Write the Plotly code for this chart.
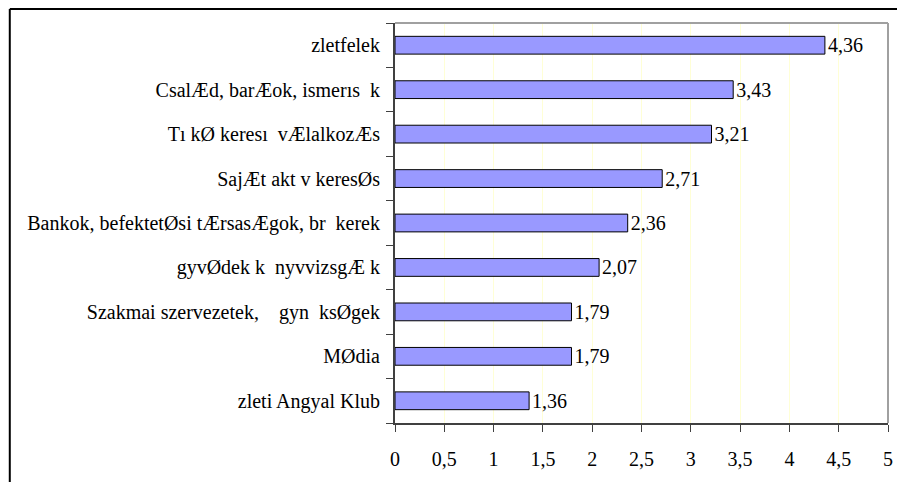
import plotly.graph_objects as go

categories = [
    "zleti Angyal Klub",
    "MØdia",
    "Szakmai szervezetek,    gyn  ksØgek",
    "gyvØdek k  nyvvizsgÆ k",
    "Bankok, befektetØsi tÆrsasÆgok, br  kerek",
    "SajÆt akt v keresØs",
    "Tı kØ keresı  vÆlalkozÆs",
    "CsalÆd, barÆok, ismerıs  k",
    "zletfelek",
]
values = [1.36, 1.79, 1.79, 2.07, 2.36, 2.71, 3.21, 3.43, 4.36]
x_ticks = [0, 0.5, 1, 1.5, 2, 2.5, 3, 3.5, 4, 4.5, 5]
x_ticklabels = ["0", "0,5", "1", "1,5", "2", "2,5", "3", "3,5", "4", "4,5", "5"]

FONT = "Liberation Serif"
FS = 20

fig = go.Figure(
    go.Bar(
        y=categories,
        x=values,
        orientation="h",
        marker=dict(color="#9999FF", line=dict(color="#000000", width=1)),
        text=[f"{v:.2f}".replace(".", ",") for v in values],
        textposition="outside",
        constraintext="none",
        textfont=dict(family=FONT, size=FS, color="#000000"),
        cliponaxis=False,
        width=0.4,
    )
)

W, H = 897, 474
L, R, T, B = 387, 16, 15, 57

fig.update_layout(
    width=W,
    height=H,
    margin=dict(l=L, r=R, t=T, b=B),
    paper_bgcolor="#FFFFFF",
    plot_bgcolor="#FFFFFF",
    showlegend=False,
    font=dict(family=FONT, size=FS, color="#000000"),
    separators=", ",
)

fig.update_xaxes(
    range=[0, 5],
    tickmode="array",
    tickvals=x_ticks,
    ticktext=x_ticklabels,
    showgrid=True,
    gridcolor="#FFFFD6",
    gridwidth=1,
    showline=True,
    linecolor="#404040",
    linewidth=2,
    ticks="outside",
    ticklen=7,
    tickcolor="#404040",
    ticklabelstandoff=10,
    tickfont=dict(family=FONT, size=FS, color="#000000"),
    zeroline=False,
)

fig.update_yaxes(
    showgrid=False,
    showline=True,
    linecolor="#404040",
    linewidth=2,
    ticks="outside",
    ticklen=7,
    tickcolor="#404040",
    tickson="boundaries",
    ticklabelstandoff=9,
    tickfont=dict(family=FONT, size=FS, color="#000000"),
    zeroline=False,
    categoryorder="array",
    categoryarray=categories,
)

pw = W - L - R
ph = H - T - B

# plot area gray border (top and right)
fig.add_shape(type="line", xref="paper", yref="paper", x0=0, x1=1, y0=1, y1=1,
              line=dict(color="#A0A0A0", width=2))
fig.add_shape(type="line", xref="paper", yref="paper", x0=1, x1=1, y0=0, y1=1,
              line=dict(color="#A0A0A0", width=2))

# outer chart frame (left and top visible)
fx0 = -(L - 1) / pw
fy1 = 1 + (T - 1) / ph
fig.add_shape(type="line", xref="paper", yref="paper",
              x0=fx0, x1=fx0, y0=-(B + 5) / ph, y1=fy1,
              line=dict(color="#000000", width=2))
fig.add_shape(type="line", xref="paper", yref="paper",
              x0=fx0, x1=1 + (R + 5) / pw, y0=fy1, y1=fy1,
              line=dict(color="#000000", width=2))

fig.write_html("out.html")
